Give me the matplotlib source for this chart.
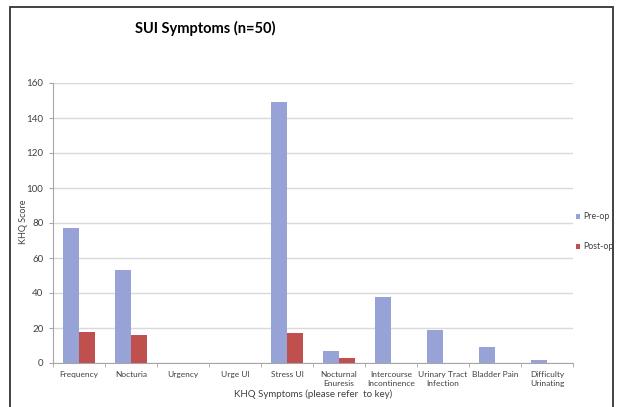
import matplotlib
matplotlib.use("Agg")
import matplotlib.pyplot as plt
from matplotlib.patches import Rectangle
import numpy as np

categories = ["Frequency", "Nocturia", "Urgency", "Urge UI", "Stress UI",
              "Nocturnal\nEnuresis", "Intercourse\nIncontinence",
              "Urinary Tract\nInfection", "Bladder Pain", "Difficulty\nUrinating"]
pre_op = [77, 53, 0, 0, 149, 7, 38, 19, 9, 2]
post_op = [18, 16, 0, 0, 17, 3, 0, 0, 0, 0]
y_ticks = [0, 20, 40, 60, 80, 100, 120, 140, 160]

PRE = "#97a2d6"
POST = "#c0504d"
GRID = "#d9d9d9"
INK = "#404040"

plt.rcParams["font.family"] = ["Lato", "DejaVu Sans"]

W, H = 619, 407
fig = plt.figure(figsize=(W / 100, H / 100), dpi=100)
fig.patch.set_facecolor("white")

# outer chart border
fig.patches.append(Rectangle((10 / W, -0.05), 603 / W, 1 - 7 / H + 0.05,
                             transform=fig.transFigure, fill=False,
                             edgecolor="#333333", linewidth=1.3))

ax = fig.add_axes([53 / W, 1 - 363 / H, 520 / W, 280 / H])
x = np.arange(len(categories))
bw = 0.30
ax.bar(x - bw / 2, pre_op, bw, color=PRE, label="Pre-op", zorder=3)
ax.bar(x + bw / 2, post_op, bw, color=POST, label="Post-op", zorder=3)

ax.set_xlim(-0.5, len(categories) - 0.5)
ax.set_ylim(0, 160)
ax.set_yticks(y_ticks)
ax.yaxis.grid(True, color=GRID, linewidth=1, zorder=0)
ax.set_axisbelow(True)
for s in ("top", "right"):
    ax.spines[s].set_visible(False)
for s in ("left", "bottom"):
    ax.spines[s].set_color("#a6a6a6")
ax.set_xticks(x)
ax.set_xticklabels(categories, fontsize=6, color=INK, linespacing=1.3)
ax.set_xticks(np.arange(len(categories) + 1) - 0.5, minor=True)
ax.tick_params(axis="x", which="major", length=0, pad=6)
ax.tick_params(axis="x", which="minor", length=3, color="#a6a6a6")
ax.tick_params(axis="y", labelsize=7, colors=INK, length=3, color="#a6a6a6", pad=4)

# y label sits between the tick labels, as in the original
fig.text(23 / W, 1 - 222 / H, "KHQ Score", fontsize=6.5, color=INK,
         rotation=90, ha="center", va="center")
ax.set_xlabel("KHQ Symptoms (please refer  to key)", fontsize=7, color=INK, labelpad=2)

fig.text(205 / W, 1 - 28 / H, "SUI Symptoms (n=50)", fontsize=10.5, fontweight="bold",
         ha="center", va="center", color="black")

ax.legend(loc="center left", bbox_to_anchor=(0.995, 0.468), frameon=False,
          fontsize=6.3, handlelength=0.55, handleheight=0.55, handletextpad=0.35,
          labelspacing=2.4, labelcolor=INK, borderaxespad=0.2)

fig.savefig("out.png", dpi=100, facecolor="white")
